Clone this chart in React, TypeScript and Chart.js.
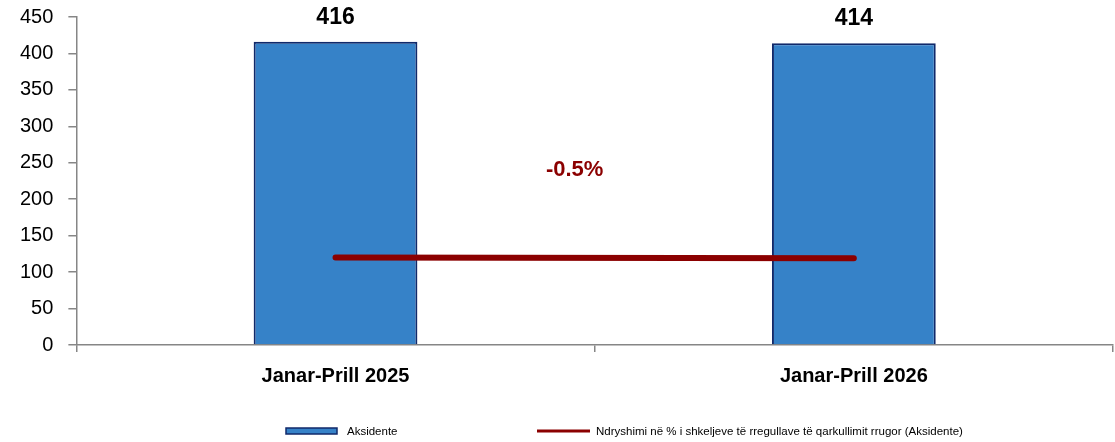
import React, { useEffect, useRef } from "react";
import { Chart, registerables } from "chart.js";

Chart.register(...registerables);

const categories = ["Janar-Prill 2025", "Janar-Prill 2026"];
const accidents = [416, 414];
const changeLine = [120, 119];
const changeLabel = "-0.5%";
const barLabel = "Aksidente";
const lineLabel = "Ndryshimi në % i shkeljeve të rregullave të qarkullimit rrugor (Aksidente)";
const yTicks = [0, 50, 100, 150, 200, 250, 300, 350, 400, 450];

const FONT = '"Liberation Sans", Arial, sans-serif';
const BAR_FILL = "#3682C8";
const BAR_BORDER = "#10296A";
const LINE_COLOR = "#8B0000";
const AXIS_COLOR = "#868686";

const valueLabelsPlugin = {
  id: "valueLabels",
  afterDatasetsDraw(chart: any) {
    const ctx = chart.ctx;
    const meta = chart.getDatasetMeta(0);
    ctx.save();
    ctx.font = `bold 23px ${FONT}`;
    ctx.fillStyle = "#000";
    ctx.textAlign = "center";
    ctx.textBaseline = "alphabetic";
    meta.data.forEach((el: any, i: number) => {
      ctx.fillText(String(chart.data.datasets[0].data[i]), el.x, el.y - 18);
    });
    // change label
    const lmeta = chart.getDatasetMeta(1);
    const pts = lmeta.data;
    if (pts.length >= 2) {
      const mx = (pts[0].x + pts[pts.length - 1].x) / 2 - 20;
      const my = (pts[0].y + pts[pts.length - 1].y) / 2 - 88;
      ctx.font = `bold 22px ${FONT}`;
      ctx.fillStyle = LINE_COLOR;
      ctx.textBaseline = "middle";
      ctx.fillText(changeLabel, mx, my);
    }
    ctx.restore();
  },
};

const legendPlugin = {
  id: "customLegend",
  afterDraw(chart: any) {
    const ctx = chart.ctx;
    const ds = chart.data.datasets;
    ctx.save();
    ctx.font = `11.5px ${FONT}`;
    ctx.textBaseline = "middle";
    ctx.textAlign = "left";
    const y = 431;
    // bar item
    ctx.fillStyle = ds[0].backgroundColor;
    ctx.strokeStyle = ds[0].borderColor;
    ctx.lineWidth = 1.5;
    ctx.fillRect(286, y - 3, 51, 6);
    ctx.strokeRect(286, y - 3, 51, 6);
    ctx.fillStyle = "#000";
    ctx.fillText(ds[0].label, 347, y + 1);
    // line item
    ctx.strokeStyle = ds[1].borderColor;
    ctx.lineWidth = 3;
    ctx.beginPath();
    ctx.moveTo(537, y);
    ctx.lineTo(590, y);
    ctx.stroke();
    ctx.fillStyle = "#000";
    ctx.fillText(ds[1].label, 596, y + 1);
    ctx.restore();
  },
};

export default function App() {
  const ref = useRef<HTMLCanvasElement | null>(null);
  useEffect(() => {
    if (!ref.current) return;
    const chart = new Chart(ref.current, {
      type: "bar",
      data: {
        labels: categories,
        datasets: [
          {
            type: "bar",
            label: barLabel,
            data: accidents,
            backgroundColor: BAR_FILL,
            borderColor: BAR_BORDER,
            borderWidth: 2,
            barPercentage: 0.316,
            categoryPercentage: 1,
            order: 2,
          } as any,
          {
            type: "line",
            label: lineLabel,
            data: changeLine,
            borderColor: LINE_COLOR,
            backgroundColor: LINE_COLOR,
            borderWidth: 6,
            borderCapStyle: "round",
            pointRadius: 0,
            fill: false,
            order: 1,
          } as any,
        ],
      },
      options: {
        responsive: false,
        animation: false,
        layout: { padding: { left: 5, top: 17, right: 2, bottom: 42 } },
        plugins: {
          legend: { display: false },
          tooltip: { enabled: false },
        },
        scales: {
          x: {
            offset: true,
            grid: {
              display: true,
              offset: true,
              drawOnChartArea: false,
              drawTicks: true,
              tickLength: 7,
              color: AXIS_COLOR,
              lineWidth: 1.5,
            },
            border: { display: true, color: AXIS_COLOR, width: 1.5 },
            ticks: {
              color: "#000",
              padding: 12,
              font: { family: FONT, size: 20, weight: "bold" },
            },
          },
          y: {
            min: 0,
            max: 450,
            afterBuildTicks: (axis: any) => {
              axis.ticks = yTicks.map((v) => ({ value: v }));
            },
            afterFit: (axis: any) => {
              axis.paddingTop = 0;
            },
            grid: {
              display: true,
              drawOnChartArea: false,
              drawTicks: true,
              tickLength: 8,
              color: AXIS_COLOR,
              lineWidth: 1.5,
            },
            border: { display: true, color: AXIS_COLOR, width: 1.5 },
            ticks: {
              color: "#000",
              padding: 15,
              font: { family: FONT, size: 20 },
            },
          },
        },
      },
      plugins: [valueLabelsPlugin, legendPlugin],
    });
    return () => chart.destroy();
  }, []);
  return (
    <div style={{ position: "fixed", left: 0, top: 0, width: 1115, height: 442, background: "#fff" }}>
      <canvas ref={ref} width={1115} height={442} style={{ display: "block" }} />
    </div>
  );
}
